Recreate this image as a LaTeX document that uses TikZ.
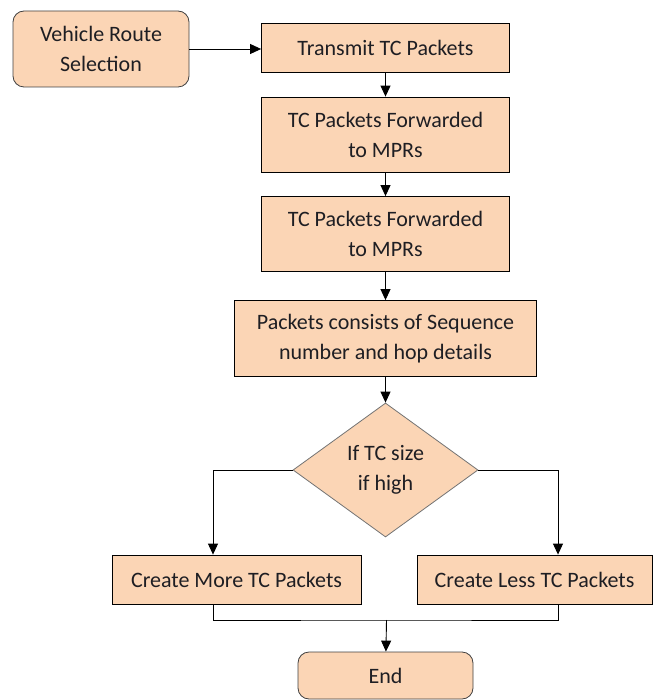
\documentclass[tikz,border=0pt]{standalone}
\usepackage{fontspec}
\setmainfont{Carlito}
\usepackage{tikz}
\usetikzlibrary{positioning,shapes.geometric,arrows.meta,calc}
\definecolor{peach}{RGB}{251,213,181}
\definecolor{txt}{RGB}{30,30,35}
\tikzstyle{process} = [rectangle, draw=black, line width=0.8pt, fill=peach, text=txt, align=center, inner sep=0pt, font=\fontsize{22}{30}\selectfont]
\tikzstyle{startstop} = [process, draw=black!75, rounded corners=11pt]
\tikzstyle{decision} = [diamond, draw=black!55, line width=0.8pt, fill=peach, text=txt, align=center, inner sep=0pt, font=\fontsize{22}{30}\selectfont]
\tikzstyle{arrow} = [line width=0.9pt, -{Triangle[length=11pt,width=10pt]}]

\begin{document}
\begin{tikzpicture}[x=1pt, y=-1pt]
        \useasboundingbox (0,0) rectangle (654,700);
        \node[startstop, minimum width=176pt, minimum height=76pt] (veh) at (101,49) {Vehicle Route\\Selection};
        \node[process, minimum width=248pt, minimum height=49pt] (tx) at (385.5,48) {Transmit TC Packets};
        \node[process, minimum width=248pt, minimum height=75pt] (fwd1) at (385.5,134.5) {TC Packets Forwarded\\to MPRs};
        \node[process, minimum width=248pt, minimum height=75pt] (fwd2) at (385.5,234) {TC Packets Forwarded\\to MPRs};
        \node[process, minimum width=302pt, minimum height=76pt] (pkt) at (385.5,338.5) {Packets consists of Sequence\\number and hop details};
        \node[decision, minimum width=185pt, minimum height=134pt] (dec) at (385.5,470) {If TC size\\if high};
        \node[process, minimum width=249pt, minimum height=49pt] (more) at (236.5,579.5) {Create More TC Packets};
        \node[process, minimum width=235pt, minimum height=49pt] (less) at (534.5,579.5) {Create Less TC Packets};
        \node[startstop, minimum width=175pt, minimum height=47pt] (end) at (385.5,675.5) {End};
        % branch and merge points
        \coordinate (ml) at ([xshift=-23.5pt]more.north);
        \coordinate (lr) at ([xshift=23.5pt]less.north);
        \coordinate (join) at (386.5,620);
        \draw[arrow] (veh.east) -- (veh.east -| tx.west);
        \draw[arrow] (tx) -- (fwd1);
        \draw[arrow] (fwd1) -- (fwd2);
        \draw[arrow] (fwd2) -- (pkt);
        \draw[arrow] (pkt) -- (dec);
        \draw[arrow] (dec.west) -| (ml);
        \draw[arrow] (dec.east) -| (lr);
        \draw[line width=0.9pt] ([xshift=-23.5pt]more.south) |- (join) -| ([xshift=23.5pt]less.south);
        \draw[arrow] (join) -- (end);
        \end{tikzpicture}
\end{document}
